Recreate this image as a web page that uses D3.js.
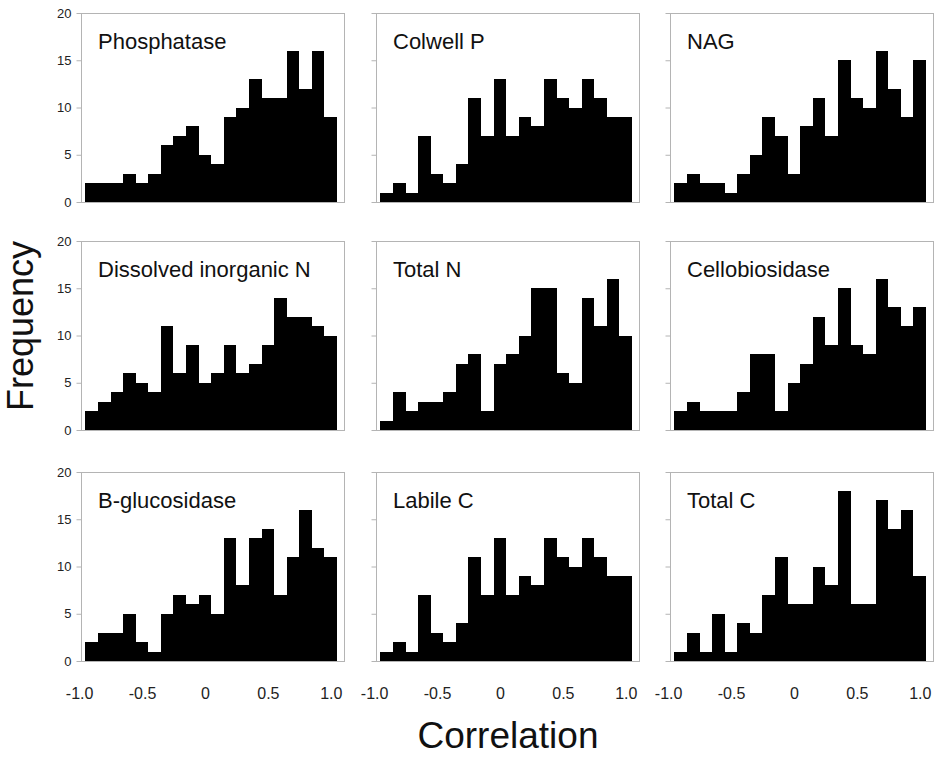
<html><head>
<meta charset="UTF-8">
<title>Correlation histograms</title>
<script src="https://cdnjs.cloudflare.com/ajax/libs/d3/7.8.5/d3.min.js"></script>
<style>
    body { margin: 0; background: #fff; }
    svg { font-family: "Liberation Sans", Arial, sans-serif; }
    .frame { fill: none; stroke: #b4b4b4; stroke-width: 1; }
    .axis path { display: none; }
    .axis line { stroke: #b4b4b4; }
    .axis text { fill: #222; }
</style>
</head>
<body>
<svg id="chart" width="941" height="758"></svg>
<script>
// bin centres (bin width 0.1)
var binCenters = [-0.9, -0.8, -0.7, -0.6, -0.5, -0.4, -0.3, -0.2, -0.1, 0.0,
                  0.1, 0.2, 0.3, 0.4, 0.5, 0.6, 0.7, 0.8, 0.9, 1.0];
var panelNames = ["Phosphatase", "Colwell P", "NAG",
                  "Dissolved inorganic N", "Total N", "Cellobiosidase",
                  "B-glucosidase", "Labile C", "Total C"];
var phosphatase   = [2,2,2,3,2,3,6,7,8,5,4,9,10,13,11,11,16,12,16,9];
var colwellP      = [1,2,1,7,3,2,4,11,7,13,7,9,8,13,11,10,13,11,9,9];
var nag           = [2,3,2,2,1,3,5,9,7,3,8,11,7,15,11,10,16,12,9,15];
var dissolvedN    = [2,3,4,6,5,4,11,6,9,5,6,9,6,7,9,14,12,12,11,10];
var totalN        = [1,4,2,3,3,4,7,8,2,7,8,10,15,15,6,5,14,11,16,10];
var cellobiosidase= [2,3,2,2,2,4,8,8,2,5,7,12,9,15,9,8,16,13,11,13];
var bGlucosidase  = [2,3,3,5,2,1,5,7,6,7,5,13,8,13,14,7,11,16,12,11];
var labileC       = [1,2,1,7,3,2,4,11,7,13,7,9,8,13,11,10,13,11,9,9];
var totalC        = [1,3,1,5,1,4,3,7,11,6,6,10,8,18,6,6,17,14,16,9];
var panelCounts = [phosphatase, colwellP, nag, dissolvedN, totalN,
                   cellobiosidase, bGlucosidase, labileC, totalC];
var yTicks = [0, 5, 10, 15, 20];
var xTicks = [-1.0, -0.5, 0, 0.5, 1.0];
var xTickLabels = ["-1.0", "-0.5", "0", "0.5", "1.0"];

var binWidth = 0.1;
var colLeft = [81, 376, 670];
var rowTop = [13, 241, 472];
var pw = 263, ph = 189;

var svg = d3.select("#chart");

var x = d3.scaleLinear().domain([-0.985, 1.105]).range([0, pw]);
var y = d3.scaleLinear().domain([0, 20]).range([ph, 0]);

panelNames.forEach(function(name, k) {
    var col = k % 3, row = Math.floor(k / 3);
    var g = svg.append("g")
        .attr("transform", "translate(" + colLeft[col] + "," + rowTop[row] + ")");

    g.selectAll("rect.bar")
        .data(panelCounts[k])
        .enter().append("rect")
        .attr("class", "bar")
        .attr("x", function(d, i) { return x(binCenters[i] - binWidth / 2); })
        .attr("width", function(d, i) { return x(binCenters[i] + binWidth / 2) - x(binCenters[i] - binWidth / 2); })
        .attr("y", function(d) { return y(d); })
        .attr("height", function(d) { return ph - y(d); })
        .attr("fill", "#000")
        .attr("shape-rendering", "crispEdges");

    g.append("rect")
        .attr("class", "frame")
        .attr("x", 0.5).attr("y", 0.5)
        .attr("width", pw).attr("height", ph);

    var yAxis = d3.axisLeft(y).tickValues(yTicks).tickSize(5).tickPadding(5);
    if (col > 0) yAxis.tickFormat("");
    g.append("g").attr("class", "axis").attr("transform", "translate(0.5,0)")
        .call(yAxis)
        .selectAll("text").style("font-size", "13px");

    if (row === 2) {
        g.append("g").attr("class", "axis").attr("transform", "translate(0," + ph + ")")
            .call(d3.axisBottom(x).tickValues(xTicks).tickSize(0).tickPadding(27)
                .tickFormat(function(d, i) { return xTickLabels[i]; }))
            .selectAll("text").style("font-size", "16px");
    }

    g.append("text")
        .attr("x", 17).attr("y", 36)
        .style("font-size", "22px")
        .attr("fill", "#111")
        .text(name);
});

svg.append("text")
    .attr("transform", "translate(33,326) rotate(-90)")
    .attr("text-anchor", "middle")
    .style("font-size", "36px")
    .attr("fill", "#111")
    .text("Frequency");

svg.append("text")
    .attr("x", 508).attr("y", 748)
    .attr("text-anchor", "middle")
    .style("font-size", "37px")
    .attr("fill", "#111")
    .text("Correlation");
</script>
</body>
</html>
